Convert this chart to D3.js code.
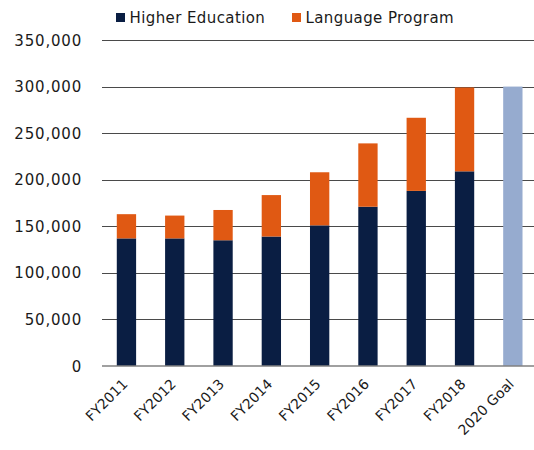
<!DOCTYPE html>
<html lang="en">
<head>
<meta charset="UTF-8">
<title>Enrollment</title>
<script src="https://cdn.jsdelivr.net/npm/d3@7"></script>
<style>
  body { margin: 0; background: #fff; }
  text { font-family: "DejaVu Sans", sans-serif; fill: #1a1a1a; }
</style>
</head>
<body>
<div id="container"></div>
<script>
// data
let categories = ["FY2011", "FY2012", "FY2013", "FY2014", "FY2015", "FY2016", "FY2017", "FY2018", "2020 Goal"];
let higherEd   = [137000, 137000, 135000, 139000, 151000, 171000, 188000, 209000, 0];
let langProg   = [26000, 24500, 32500, 44500, 57000, 68000, 78500, 90000, 0];
let goal       = [0, 0, 0, 0, 0, 0, 0, 0, 300000];
let yTicks     = [0, 50000, 100000, 150000, 200000, 250000, 300000, 350000];

let W = 534, H = 450;
let svg = d3.select('#container')
    .append('svg')
    .attr('width', W)
    .attr('height', H);

let x = d3.scaleBand()
    .domain(categories)
    .range([102.3, 537])
    .paddingInner(0.6)
    .paddingOuter(0.3);

let y = d3.scaleLinear()
    .domain([0, 350000])
    .range([366, 40]);

// gridlines
svg.append('g')
    .selectAll('line')
    .data(yTicks.filter(d => d > 0))
    .join('line')
    .attr('x1', 102)
    .attr('x2', W)
    .attr('y1', d => Math.round(y(d)) + 0.5)
    .attr('y2', d => Math.round(y(d)) + 0.5)
    .attr('stroke', '#4a4a4a')
    .attr('stroke-width', 1.2);

// y labels
svg.append('g')
    .selectAll('text')
    .data(yTicks)
    .join('text')
    .attr('x', 82)
    .attr('y', d => y(d) + 5.5)
    .attr('text-anchor', 'end')
    .style('font-size', '15px')
    .style('letter-spacing', '0.8px')
    .text(d => d3.format(',')(d));

// stacked bars
let rows = categories.map((c, i) => ({cat: c, he: higherEd[i], lp: langProg[i], goal: goal[i]}));

svg.append('g').selectAll('rect')
    .data(rows.filter(d => d.he > 0))
    .join('rect')
    .attr('x', d => x(d.cat))
    .attr('width', x.bandwidth())
    .attr('y', d => y(d.he))
    .attr('height', d => y(0) - y(d.he))
    .attr('fill', '#0a1e43');

svg.append('g').selectAll('rect')
    .data(rows.filter(d => d.lp > 0))
    .join('rect')
    .attr('x', d => x(d.cat))
    .attr('width', x.bandwidth())
    .attr('y', d => y(d.he + d.lp))
    .attr('height', d => y(d.he) - y(d.he + d.lp))
    .attr('fill', '#e05913');

svg.append('g').selectAll('rect')
    .data(rows.filter(d => d.goal > 0))
    .join('rect')
    .attr('x', d => x(d.cat))
    .attr('width', x.bandwidth())
    .attr('y', d => y(d.goal))
    .attr('height', d => y(0) - y(d.goal))
    .attr('fill', '#96abcf');

// baseline
svg.append('line')
    .attr('x1', 102)
    .attr('x2', W)
    .attr('y1', y(0))
    .attr('y2', y(0))
    .attr('stroke', '#808080')
    .attr('stroke-width', 1.5);

// x labels
svg.append('g')
    .selectAll('text')
    .data(categories)
    .join('text')
    .attr('text-anchor', 'end')
    .attr('transform', d => 'translate(' + (x(d) + x.bandwidth() / 2 + 2) + ',385) rotate(-45)')
    .style('font-size', '14px')
    .text(d => d);

// legend
let legend = [
    {name: 'Higher Education', color: '#0a1e43', x: 116},
    {name: 'Language Program', color: '#e05913', x: 292}
];
let lg = svg.append('g').selectAll('g')
    .data(legend)
    .join('g')
    .attr('transform', d => 'translate(' + d.x + ',13)');
lg.append('rect')
    .attr('width', 9)
    .attr('height', 9)
    .attr('fill', d => d.color);
lg.append('text')
    .attr('x', 13.5)
    .attr('y', 9.8)
    .style('font-size', '15px')
    .style('letter-spacing', '0.4px')
    .text(d => d.name);
</script>
</body>
</html>
